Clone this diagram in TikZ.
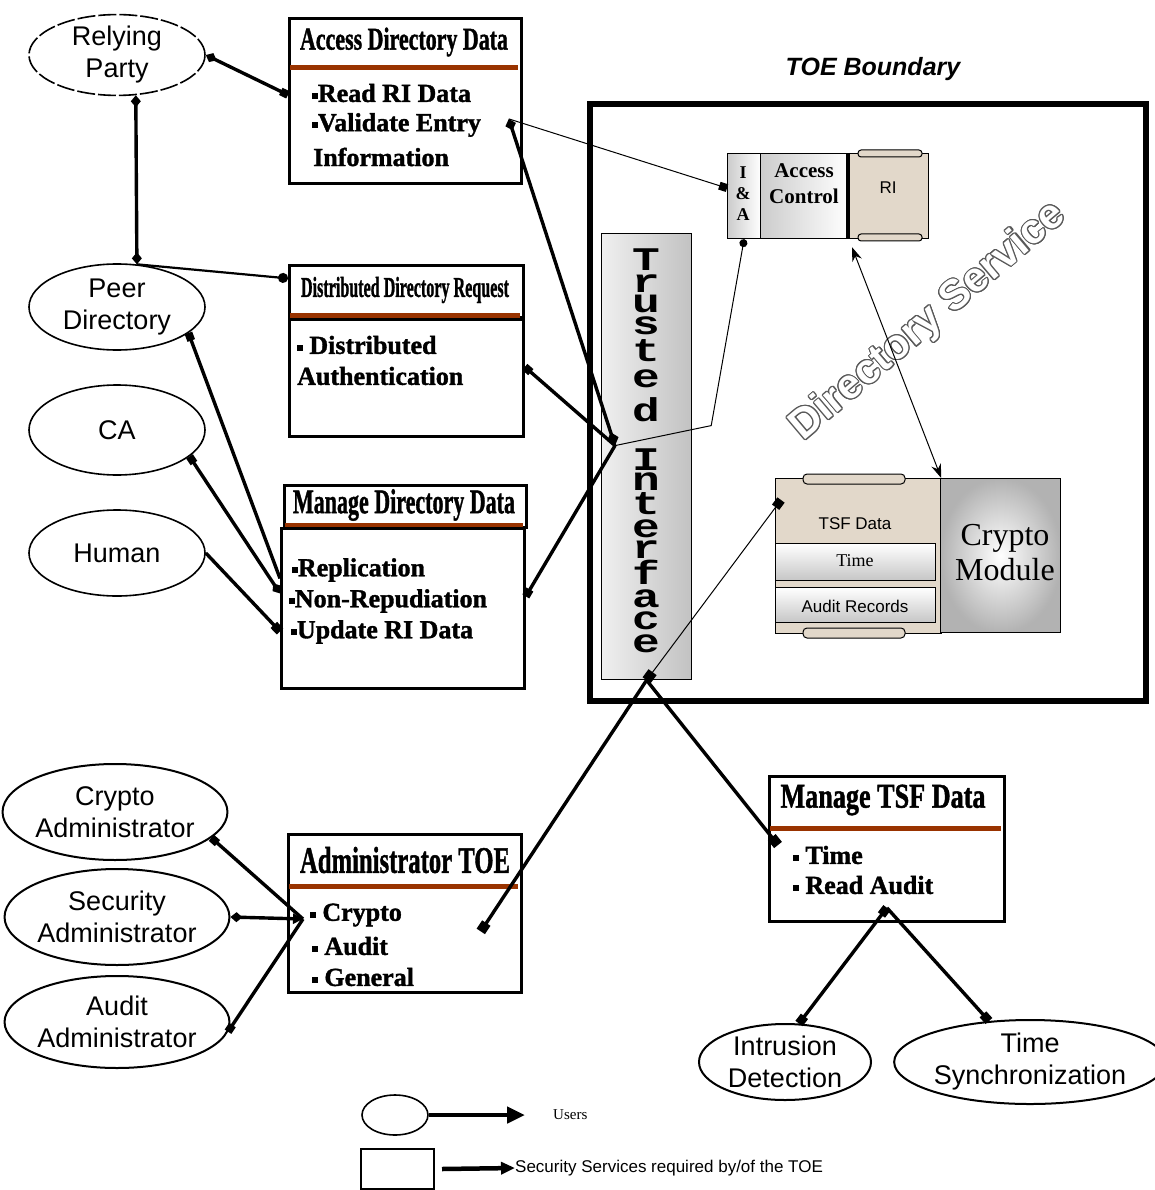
\documentclass[tikz,border=0pt]{standalone}
\usepackage{fontspec}
\setmainfont{Liberation Serif}
\setsansfont{Liberation Sans}
\newfontfamily\courierfont{Liberation Mono}
\newfontfamily\heavyserif{Liberation Serif Bold}[FakeBold=1.4]
\usepackage{graphicx}
\usepackage{contour}
\usetikzlibrary{shapes.geometric,arrows.meta,calc}
\definecolor{barbrown}{RGB}{153,51,0}
\definecolor{parchment}{RGB}{226,216,202}

\newcommand\fsz[1]{\fontsize{#1}{#1}\selectfont}
\newcommand\hdr[3]{\resizebox{#1pt}{#2pt}{\heavyserif #3}}
\newcommand\sqb{\rule[0.12em]{0.22em}{0.22em}}
\contourlength{1.1pt}

\begin{document}
\begin{tikzpicture}[x=1pt,y=-1pt,
  user/.style={ellipse, draw, line width=1.6pt, inner sep=0pt, align=center,
    font=\sffamily\fontsize{27}{32}\selectfont},
  svc/.style={draw, line width=2.8pt, inner sep=0pt, anchor=north west},
  bar/.style={barbrown, line width=5pt},
  itm/.style={anchor=west, inner sep=0pt, font=\heavyserif\fsz{26}},
  panel/.style={draw, line width=1.2pt, inner sep=0pt, anchor=north west},
  conn/.style={line width=3.4pt},
  fine/.style={line width=1pt},
  tiletter/.style={anchor=base, inner sep=0pt, font=\courierfont\bfseries\fsz{33}}]

\useasboundingbox (0,0) rectangle (1154,1190);
\fill[white] (0,0) rectangle (1154,1190);

% ---------- users ----------
\node[user, dash pattern=on 18pt off 3pt, minimum width=176, minimum height=80] (rp) at (117,55) {Relying\\Party};
\node[user, minimum width=176, minimum height=86] (pd) at (117,307) {Peer\\Directory};
\node[user, minimum width=176, minimum height=90] (ca) at (117,430) {CA};
\node[user, minimum width=176, minimum height=86] (hu) at (117,553) {Human};
\node[user, line width=2pt, minimum width=210, minimum height=96] (cadm) at (115,812) {Crypto\\Administrator};
\node[user, line width=2pt, minimum width=212, minimum height=96] (sadm) at (117,917) {Security\\Administrator};
\node[user, line width=2pt, minimum width=212, minimum height=92] (aadm) at (117,1022) {Audit\\Administrator};
\node[user, line width=2pt, minimum width=172, minimum height=76] (ids) at (785,1062) {Intrusion\\Detection};
\node[user, line width=2pt, minimum width=246, minimum height=84] (tsync) at (1030,1062) {Time\\Synchronization};

% ---------- security services ----------
\node[svc, minimum width=232, minimum height=165] (adata) at (288,17) {};
\node (adatat) at (404,42) {\hdr{208}{22}{Access Directory Data}};
\draw[bar] (290,68) -- (518,68);
\node[itm] (readri) at (312,93) {\sqb Read RI Data};
\node[itm] (valid) at (312,125) {\sqb Validate Entry};
\node[itm] (info) at (313,157) {Information};

\node[svc, minimum width=234, minimum height=52] (dreqh) at (288,264) {};
\node (dreqt) at (405,290) {\hdr{208}{20}{Distributed Directory Request}};
\draw[bar] (290,315) -- (520,315);
\node[svc, minimum width=234, minimum height=117] (dreq) at (288,318) {};
\node[itm] (distr) at (297,345) {\sqb\ Distributed};
\node[itm] (authn) at (297,376) {Authentication};

\node[svc, minimum width=242, minimum height=42] (mdatah) at (283,484) {};
\node (mdatat) at (404,505) {\hdr{222}{24}{Manage Directory Data}};
\draw[bar] (285,525) -- (523,525);
\node[svc, minimum width=243, minimum height=160] (mdata) at (280,527) {};
\node[itm] (repl) at (292,570) {\sqb Replication};
\node[itm] (nonrep) at (289,601) {\sqb Non-Repudiation};
\node[itm] (updri) at (291,632) {\sqb Update RI Data};

\node[svc, minimum width=233, minimum height=158] (admtoe) at (287,833) {};
\node (admtoet) at (405,860) {\hdr{210}{26}{Administrator TOE}};
\draw[bar] (289,886) -- (518,886);
\node[itm] (icrypto) at (310,915) {\sqb\ Crypto};
\node[itm] (iaudit) at (312,946) {\sqb\ Audit};
\node[itm] (igeneral) at (312,977) {\sqb\ General};

\node[svc, minimum width=235, minimum height=145] (mtsf) at (768,775) {};
\node (mtsft) at (883,800) {\hdr{205}{23}{Manage TSF Data}};
\draw[bar] (770,828) -- (1001,828);
\node[itm] (itime) at (793,855) {\sqb\ Time};
\node[itm] (iraudit) at (793,885) {\sqb\ Read Audit};

% ---------- TOE ----------
\node[draw, line width=6pt, inner sep=0pt, anchor=north west, minimum width=556, minimum height=597] (toe) at (587,101) {};
\node[font=\sffamily\bfseries\itshape\fsz{25}] (toelbl) at (873,69) {TOE Boundary};

\node[panel, left color=gray!12, right color=gray!48, minimum width=90, minimum height=446] (ti) at (601,233) {};
\foreach \ch/\yb [count=\k] in {T/270,r/292,u/312,s/334,t/361,e/387,d/421,I/470,n/490,t/514,e/537,r/558,f/584,a/607,c/629,e/652}
  \node[tiletter] (tiL\k) at (646,\yb) {\scalebox{1.4}[1]{\ch}};

\node[panel, left color=gray!40, right color=white, minimum width=33, minimum height=85] (ia) at (727,153) {};
\node[align=center, inner sep=0pt, font=\bfseries\fontsize{18}{21}\selectfont] (iat) at (743,194) {I\\\&\\A};
\node[panel, left color=gray!40, right color=white, minimum width=88, minimum height=85] (ac) at (760,153) {};
\node[align=center, inner sep=0pt, font=\bfseries\fontsize{21}{26}\selectfont] (act) at (804,184) {Access\\Control};
\node[panel, fill=parchment, minimum width=80, minimum height=85] (ri) at (848,153) {};
\draw[line width=4pt] (ri.north west) -- (ri.south west);
\draw[fill=parchment, line width=1pt, rounded corners=3pt] (858,150) rectangle (922,157);
\draw[fill=parchment, line width=1pt, rounded corners=3pt] (858,234) rectangle (922,241);
\node[font=\sffamily\fsz{17}] (rit) at (888,188) {RI};

\node[panel, fill=parchment, minimum width=165, minimum height=155] (tsf) at (775,478) {};
\draw[line width=2.5pt] (tsf.north east) -- (tsf.south east);
\draw[fill=parchment, line width=1pt, rounded corners=4pt] (803,474) rectangle (905,484);
\draw[fill=parchment, line width=1pt, rounded corners=4pt] (803,628) rectangle (905,638);
\node[font=\sffamily\fsz{17}] (tsft) at (855,524) {TSF Data};
\node[panel, top color=white, bottom color=gray!45, minimum width=160, minimum height=37] (tbox) at (775,543) {};
\node[font=\fsz{18}] (tboxt) at (855,561) {Time};
\node[panel, top color=white, bottom color=gray!45, minimum width=160, minimum height=35] (abox) at (775,587) {};
\node[font=\sffamily\fsz{17}] (aboxt) at (855,606) {Audit Records};

\node[panel, inner color=white, outer color=gray!60, minimum width=120, minimum height=154] (cm) at (940,478) {};
\node[align=center, inner sep=0pt, font=\fontsize{32}{35}\selectfont] (cmt) at (1005,553) {Crypto\\Module};

\node[rotate=40.2, inner sep=0pt, text=white, font=\sffamily\bfseries\fsz{42}] (dirsvc) at (929,322) {\contour{gray!70!black}{Directory Service}};

% ---------- connector ends ----------
\coordinate (adport) at ([xshift=-14pt,yshift=-18pt]adata.east);
\coordinate (tihub) at ([xshift=14pt,yshift=11pt]ti.west);
\coordinate (tibend) at ([xshift=19pt,yshift=31pt]ti.east);
\coordinate (adminin) at ([xshift=-42pt,yshift=-18pt]admtoe.east);
\coordinate (tsfin) at ([xshift=10pt,yshift=-70pt]mtsf.north west);
\coordinate (admport) at ([xshift=-7pt,yshift=-4pt]icrypto.west);
\coordinate (mport) at ([yshift=15pt]mtsf.south);

% ---------- connectors ----------
\draw[conn, {Diamond[length=12pt,width=10pt]}-{Square[length=8pt]}] (rp.east) -- ([yshift=6pt]adata.west);
\draw[conn, {Diamond[length=12pt,width=10pt]}-{Diamond[length=12pt,width=10pt]}] (rp.-65) -- (pd.65);
\draw[line width=2.2pt, -{Circle[length=10pt]}] (pd.65) -- ([yshift=13pt]dreqh.west);
\draw[conn, {Square[length=8pt]}-] (pd.-20) -- ([yshift=30pt]mdata.west);
\draw[conn, {Square[length=8pt]}-{Diamond[length=12pt,width=10pt]}] (ca.-20) -- ([yshift=15pt]mdata.west);
\draw[conn, -{Square[length=9pt]}] (hu.east) -- ([yshift=-23pt]mdata.west);

\draw[conn, {Diamond[length=12pt,width=11pt]}-{Diamond[length=14pt,width=12pt]}] (adport) -- (tihub);
\draw[fine, -{Square[length=8pt]}] (adport) -- ([yshift=8pt]ia.west);
\draw[conn, {Square[length=8pt]}-] ([yshift=11pt]dreq.east) -- (tihub);
\draw[conn, {Square[length=8pt]}-] ([yshift=12pt]mdata.east) -- (tihub);
\draw[fine, -{Circle[length=8pt]}] (tihub) -- (tibend) -- (ia.south);

\draw[fine, {Square[length=10pt]}-{Square[length=9pt]}] (ti.south) -- ([xshift=6pt,yshift=-22pt]tsf.north west);
\draw[conn, -{Square[length=10pt]}] (ti.south) -- (adminin);
\draw[conn, -{Square[length=10pt]}] (ti.south) -- (tsfin);
\draw[fine, {Stealth[length=14pt,width=10pt]}-{Stealth[length=14pt,width=10pt]}] ([xshift=4pt,yshift=-8pt]ri.south west) -- (tsf.north east);

\draw[conn, {Square[length=8pt]}-] (cadm.-15) -- (admport);
\draw[conn, {Diamond[length=12pt,width=10pt]}-{Triangle[length=10pt,width=10pt]}] (sadm.east) -- (admport);
\draw[conn, {Square[length=8pt]}-] (aadm.-5) -- (admport);

\draw[conn, {Square[length=9pt]}-{Square[length=9pt]}] (mport) -- (ids.70);
\draw[conn, -{Square[length=9pt]}] (mport) -- (tsync.135);

% ---------- key ----------
\node[draw, ellipse, line width=1.6pt, minimum width=66, minimum height=40] (lgu) at (395,1115) {};
\node[anchor=west, inner sep=0pt, font=\fsz{15}] (lgut) at (553,1115) {Users};
\draw[conn, line width=4.5pt, -{Triangle[length=18pt,width=16pt]}] (lgu.east) -- ([xshift=-28pt]lgut.west);
\node[draw, line width=2pt, minimum width=73, minimum height=40, anchor=north west] (lgs) at (360,1148) {};
\node[anchor=west, inner sep=0pt, font=\sffamily\fsz{17}] (lgst) at (515,1168) {Security Services required by/of the TOE};
\draw[conn, line width=4.5pt, -{Triangle[length=14pt,width=12pt]}] ([xshift=7pt]lgs.east) -- (lgst.west);
\end{tikzpicture}
\end{document}
